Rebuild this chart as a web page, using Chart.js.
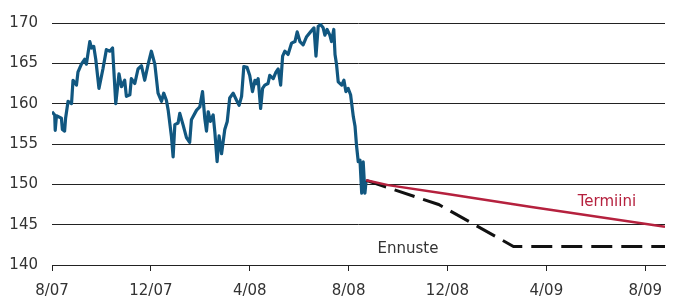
<!DOCTYPE html>
<html>
<head>
<meta charset="utf-8">
<script src="https://cdn.jsdelivr.net/npm/chart.js@4/dist/chart.umd.min.js"></script>
<style>
  html, body { margin: 0; padding: 0; background: #fff; }
  #wrap { width: 678px; height: 298px; }
</style>
</head>
<body>
<div id="wrap"><canvas id="chart" width="678" height="298"></canvas></div>
<script>
// x = months since 8/07
const tickLabels = ['8/07', '12/07', '4/08', '8/08', '12/08', '4/09', '8/09'];
const tickMonths = [0, 4, 8, 12, 16, 20, 24];

const histMonths = [0.00, 0.11, 0.13, 0.18, 0.38, 0.42, 0.51, 0.55, 0.65, 0.79, 0.85, 0.99, 1.05, 1.19, 1.32, 1.39,
  1.53, 1.60, 1.69, 1.77, 1.90, 2.06, 2.20, 2.34, 2.45, 2.54, 2.58, 2.71, 2.81, 2.94, 3.01, 3.15, 3.21, 3.35, 3.48,
  3.62, 3.75, 3.89, 4.02, 4.16, 4.29, 4.43, 4.52, 4.63, 4.70, 4.83, 4.90, 4.97, 5.10, 5.17, 5.30, 5.44, 5.57, 5.64,
  5.85, 5.98, 6.09, 6.18, 6.25, 6.32, 6.41, 6.52, 6.59, 6.68, 6.76, 6.86, 6.99, 7.09, 7.19, 7.33, 7.47, 7.57, 7.67,
  7.76, 7.89, 8.00, 8.11, 8.21, 8.27, 8.34, 8.44, 8.52, 8.61, 8.74, 8.81, 8.95, 9.06, 9.15, 9.25, 9.33, 9.42, 9.55,
  9.69, 9.83, 9.92, 10.03, 10.16, 10.30, 10.46, 10.60, 10.68, 10.77, 10.87, 10.97, 11.04, 11.13, 11.24, 11.31, 11.40,
  11.45, 11.51, 11.58, 11.72, 11.81, 11.89, 11.98, 12.08, 12.19, 12.26, 12.32, 12.39, 12.46, 12.53, 12.59, 12.66, 12.71];
const histValues = [159.0, 158.6, 156.7, 158.5, 158.2, 156.8, 156.6, 158.2, 160.3, 160.0, 162.9, 162.3, 163.9, 164.9, 165.5, 164.9,
  167.7, 166.9, 167.1, 165.5, 161.9, 164.3, 166.7, 166.5, 166.9, 162.1, 160.0, 163.7, 162.1, 162.9, 160.9, 161.1, 163.1, 162.5, 164.3,
  164.7, 162.9, 164.9, 166.5, 164.9, 161.3, 160.3, 161.3, 160.4, 159.2, 156.0, 153.4, 157.4, 157.6, 158.8, 157.4, 155.8, 155.2, 158.0,
  159.2, 159.6, 161.5, 158.2, 156.6, 159.0, 157.8, 158.6, 156.4, 152.8, 156.0, 153.8, 156.8, 157.8, 160.7, 161.3, 160.4, 159.8, 160.9,
  164.6, 164.5, 163.5, 161.5, 162.9, 162.5, 163.1, 159.4, 161.9, 162.3, 162.5, 163.5, 163.1, 163.9, 164.3, 162.3, 165.9, 166.5, 166.1,
  167.5, 167.7, 168.9, 167.7, 167.3, 168.3, 168.9, 169.4, 165.9, 169.6, 169.8, 169.4, 168.5, 169.2, 168.5, 167.7, 169.2,
  166.1, 164.9, 162.7, 162.3, 162.9, 161.5, 161.9, 161.1, 158.4, 157.2, 154.8, 152.8, 153.0, 148.9, 152.8, 148.9, 150.5];

const termMonths = [12.71, 13.6, 16.0, 19.4, 24.8];
const termValues = [150.5, 149.9, 148.8, 147.2, 144.75];

const fcMonths = [12.71, 15.64, 18.67, 24.8];
const fcValues = [150.5, 147.5, 142.3, 142.3];

const noteTexts = ['Termiini', 'Ennuste'];
const noteMonths = [22.45, 14.4];
const noteValues = [147.8, 142.0];
const noteColors = ['#b5213e', '#333333'];

const toPts = (xs, ys) => xs.map((x, i) => ({ x: x, y: ys[i] }));

const notesPlugin = {
  id: 'notes',
  afterDatasetsDraw(chart) {
    const ctx = chart.ctx;
    const xs = chart.scales.x, ys = chart.scales.y;
    ctx.save();
    ctx.font = '15px "DejaVu Sans"';
    ctx.textAlign = 'center';
    ctx.textBaseline = 'middle';
    noteTexts.forEach((t, i) => {
      ctx.fillStyle = noteColors[i];
      ctx.fillText(t, xs.getPixelForValue(noteMonths[i]), ys.getPixelForValue(noteValues[i]));
    });
    ctx.restore();
  }
};

new Chart(document.getElementById('chart'), {
  type: 'line',
  data: {
    datasets: [
      {
        label: 'Termiini',
        data: toPts(termMonths, termValues),
        borderColor: '#b5213e',
        borderWidth: 2.5,
        pointRadius: 0,
        tension: 0
      },
      {
        label: 'Ennuste',
        data: toPts(fcMonths, fcValues),
        borderColor: '#111111',
        borderWidth: 3,
        borderDash: [21, 9],
        pointRadius: 0,
        tension: 0
      },
      {
        label: 'Kurssi',
        data: toPts(histMonths, histValues),
        borderColor: '#115780',
        borderWidth: 3.2,
        borderJoinStyle: 'round',
        pointRadius: 0,
        tension: 0
      }
    ]
  },
  options: {
    responsive: false,
    animation: false,
    layout: { padding: { top: 18, right: 13, left: 0, bottom: 0 } },
    plugins: { legend: { display: false }, tooltip: { enabled: false } },
    scales: {
      x: {
        type: 'linear',
        min: 0,
        max: 24.8,
        afterBuildTicks: (s) => { s.ticks = tickMonths.map(v => ({ value: v })); },
        afterFit: (s) => { s.height = 33; },
        ticks: {
          autoSkip: false,
          maxRotation: 0,
          padding: 11,
          color: '#333333',
          font: { family: 'DejaVu Sans', size: 15 },
          callback: (v) => tickLabels[tickMonths.indexOf(v)]
        },
        grid: { drawOnChartArea: false, drawTicks: true, tickLength: 6, color: '#222222' },
        border: { display: true, color: '#222222', width: 1 }
      },
      y: {
        min: 140,
        max: 170,
        afterFit: (s) => { s.width = 52; },
        ticks: {
          stepSize: 5,
          padding: 14,
          color: '#333333',
          font: { family: 'DejaVu Sans', size: 15 }
        },
        grid: { drawTicks: false, color: '#222222', lineWidth: 1 },
        border: { display: false }
      }
    }
  },
  plugins: [notesPlugin]
});
</script>
</body>
</html>
